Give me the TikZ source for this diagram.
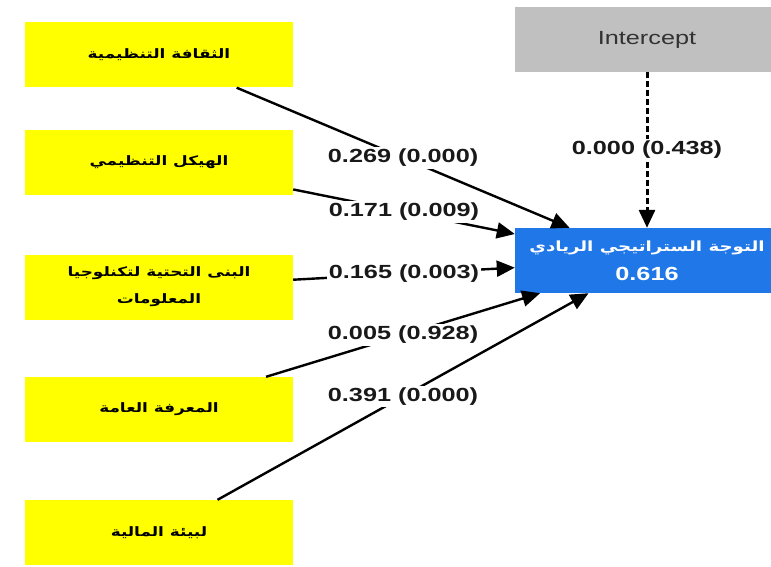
\documentclass[tikz,border=0pt]{standalone}
\usepackage{fontspec}
\setmainfont{Liberation Sans}
\newfontfamily\arabicfont[Script=Arabic,FakeStretch=1.3]{DejaVu Sans}
\newfontfamily\numfont[FakeStretch=1.33]{Liberation Sans}
\TeXXeTstate=1
\usetikzlibrary{arrows.meta}
\definecolor{boxyellow}{RGB}{255,255,0}
\definecolor{boxblue}{RGB}{32,120,232}
\definecolor{boxgray}{RGB}{192,192,192}
\definecolor{textgray}{RGB}{50,50,50}
\tikzset{%
  construct/.style={fill=boxyellow, minimum width=268pt, minimum height=65pt,
              inner sep=0pt, align=center,
              font=\arabicfont\bfseries\fontsize{13}{27}\selectfont},
  outcome/.style={fill=boxblue, text=white, minimum width=264pt, minimum height=65pt,
              inner sep=0pt, align=center},
  constant/.style={fill=boxgray, text=textgray, minimum width=264pt, minimum height=65pt,
              inner sep=0pt, font=\numfont\fontsize{19}{22}\selectfont},
  path/.style={line width=2.4pt, -{Triangle[length=18pt,width=16pt]}},
  weight/.style={fill=white, inner sep=2pt, text=black!90,
              font=\numfont\bfseries\fontsize{19}{22}\selectfont},
}

\begin{document}
\begin{tikzpicture}[x=1pt, y=-1pt]

    \useasboundingbox (0,0) rectangle (771,567);

    % predictors
    \node[construct] (culture) at (159,55) {\beginR الثقافة التنظيمية\endR};
    \node[construct] (structure) at (159,162.5) {\beginR الهيكل التنظيمي\endR};
    \node[construct] (infra) at (159,287) {\beginR البنى التحتية لتكنلوجيا\endR\\ \beginR المعلومات\endR};
    \node[construct] (knowledge) at (159,409.5) {\beginR المعرفة العامة\endR};
    \node[construct] (finance) at (159,532.5) {\beginR لبيئة المالية\endR};

    % outcome and intercept
    \node[outcome] (strategy) at (647,260.5)
      {{\arabicfont\bfseries\fontsize{14}{20}\selectfont\beginR التوجة الستراتيجي الريادي\endR}\\[11pt]
       {\numfont\bfseries\fontsize{19}{22}\selectfont 0.616}};
    \node[constant] (intercept) at (647,39.5) {Intercept};

    %paths
    \draw[path] (culture) -- node[weight] {0.269 (0.000)} (strategy);
    \draw[path] (structure) -- node[weight] {0.171 (0.009)} (strategy);
    \draw[path] (infra) -- node[weight] {0.165 (0.003)} (strategy);
    \draw[path] (knowledge) -- node[weight] {0.005 (0.928)} (strategy);
    \draw[path] (finance) -- node[weight] {0.391 (0.000)} (strategy);
    \draw[path, dash pattern=on 6pt off 3pt, line width=3pt] (intercept) -- node[weight] {0.000 (0.438)} (strategy);

\end{tikzpicture}
\end{document}
